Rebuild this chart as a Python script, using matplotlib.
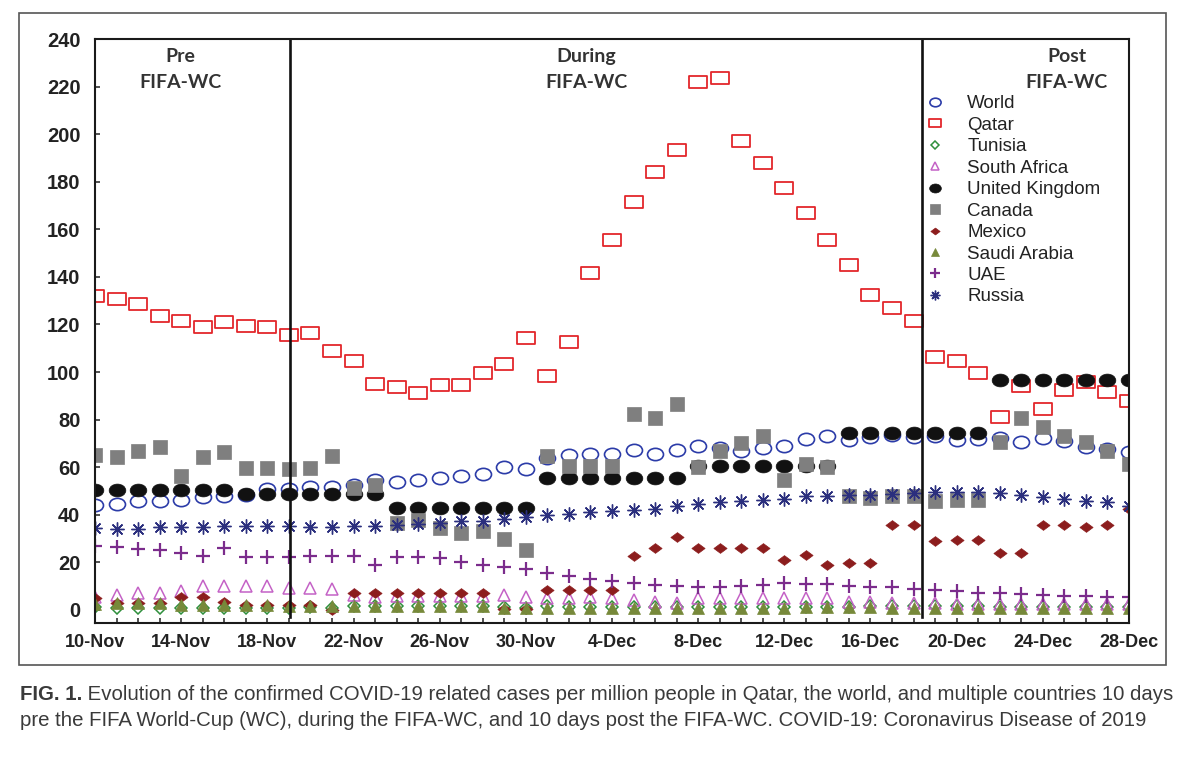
import numpy as np
import matplotlib
matplotlib.use("Agg")
import matplotlib.pyplot as plt
import matplotlib.transforms as mtrans
from matplotlib.path import Path
from matplotlib.patches import Rectangle
import pandas as pd

plt.rcParams["font.family"] = ["Liberation Sans", "DejaVu Sans"]

# dates, 10-Nov .. 28-Dec 2022
dates = pd.date_range("2022-11-10", "2022-12-28", freq="D")
tick_every = 4

# cases per million people
world = [44.2, 44.6, 45.6, 45.6, 46.0, 47.3, 48.0, 48.4, 50.9, 50.9, 51.6, 51.6, 52.6, 54.7, 53.8, 54.7, 55.4,
         56.1, 57.1, 59.9, 59.1, 64.0, 65.3, 65.7, 65.7, 67.4, 65.7, 67.4, 69.1, 68.1, 66.9, 68.1, 69.1, 72.0,
         73.0, 71.6, 72.7, 73.4, 72.7, 73.0, 71.6, 72.0, 72.3, 70.5, 72.3, 70.9, 68.5, 67.6, 66.2]
qatar = [132, 130.5, 128.5, 123.5, 121.5, 119, 121, 119.5, 119, 115.5, 116.5, 109, 104.5, 95, 93.5, 91, 94.5,
         94.5, 99.5, 103.5, 114.5, 98.5, 112.5, 141.5, 155.5, 171.5, 184, 193.5, 222, 223.5, 197, 188, 177.5,
         167, 155.5, 145, 132.5, 127, 121.5, 106.5, 104.5, 99.5, 81, 94, 84.5, 92.5, 96, 91.5, 88]
tunisia = [1.2, 0.8, 0.8, 0.8, 0.8, 0.8, 0.9, 0.9, 1.0, 1.0, 1.1, 1.0, 1.6, 1.6, 1.6, 1.7, 1.7, 1.7, 1.7, 1.2,
           1.0, 1.5, 1.4, 1.3, 1.2, 1.2, 1.2, 1.2, 1.3, 1.3, 1.3, 1.3, 1.3, 1.3, 1.4, 1.4, 1.5, 1.5, 1.5, 1.5,
           1.5, 1.5, 1.4, 1.4, 1.4, 1.3, 1.3, 1.3, 1.3]
south_africa = [5.5, 6.3, 7.3, 7.0, 8.1, 10.2, 10.2, 10.2, 10.2, 9.1, 9.1, 8.7, 6.3, 5.6, 5.8, 5.8, 5.8, 5.8,
                5.8, 6.3, 5.6, 4.9, 4.9, 5.3, 4.9, 4.2, 3.5, 2.8, 4.9, 4.9, 4.9, 4.9, 4.9, 4.9, 4.9, 3.5, 3.5,
                3.1, 2.8, 2.8, 2.6, 2.6, 2.5, 2.5, 2.5, 2.5, 2.5, 2.5, 2.5]
uk = [50.4, 50.4, 50.4, 50.4, 50.4, 50.4, 50.4, 48.7, 48.8, 48.8, 48.8, 48.8, 48.8, 48.8, 42.8, 42.8, 42.8,
      42.8, 42.8, 42.8, 42.8, 55.3, 55.3, 55.3, 55.3, 55.3, 55.3, 55.3, 60.3, 60.3, 60.3, 60.3, 60.3, 60.3,
      60.3, 74.4, 74.4, 74.4, 74.4, 74.4, 74.4, 74.4, 96.8, 96.8, 96.8, 96.8, 96.8, 96.8, 96.8]
canada = [65.3, 64.3, 66.8, 68.3, 56.4, 64.3, 66.4, 59.6, 59.6, 59.4, 59.6, 64.6, 51.2, 52.4, 36.5, 37.9, 34.4,
          32.3, 33.3, 29.9, 25.0, 64.6, 60.3, 60.3, 60.3, 82.5, 80.6, 86.6, 59.9, 66.9, 70.2, 73.3, 54.7, 61.3,
          59.9, 47.7, 47.0, 47.7, 47.7, 45.6, 46.3, 46.3, 70.6, 80.8, 76.8, 73.3, 70.5, 66.7, 61.5]
mexico = [4.9, 3.0, 3.0, 3.0, 5.6, 5.6, 3.5, 2.1, 2.1, 2.1, 2.1, 0.0, 7.0, 7.0, 7.0, 7.0, 7.0, 7.0, 7.0, 0.5,
          0.5, 8.4, 8.4, 8.4, 8.4, 22.5, 26.2, 30.6, 26.2, 26.2, 26.2, 26.2, 20.8, 23.0, 18.7, 19.7, 19.7, 35.5,
          35.5, 29.1, 29.5, 29.5, 24.1, 24.1, 35.5, 35.5, 34.8, 35.5, 42.4]
saudi = [2.5, 3.1, 3.1, 3.1, 2.1, 2.1, 2.0, 2.0, 2.0, 1.8, 1.5, 1.5, 1.8, 1.8, 1.8, 1.8, 1.8, 1.8, 1.8, 0.8, 0.8,
         1.0, 1.0, 1.0, 1.0, 1.0, 1.0, 1.0, 1.0, 1.0, 1.0, 1.0, 1.0, 1.2, 1.2, 1.2, 1.2, 1.0, 1.0, 1.0, 1.0,
         1.0, 1.0, 1.0, 1.0, 1.0, 1.0, 1.0, 1.0]
uae = [26.9, 26.4, 25.5, 25.0, 23.9, 22.7, 26.1, 22.2, 22.2, 22.2, 22.7, 22.7, 22.7, 18.9, 22.2, 22.2, 21.8,
       20.0, 18.7, 17.9, 17.3, 15.4, 14.4, 12.9, 12.2, 11.2, 10.5, 10.0, 9.8, 9.8, 10.0, 10.5, 11.2, 11.0, 11.0,
       10.0, 9.8, 9.8, 9.0, 8.4, 8.0, 7.3, 7.3, 6.7, 6.2, 5.9, 5.9, 5.6, 5.3]
russia = [34.4, 34.0, 34.0, 34.7, 34.7, 34.7, 35.1, 35.1, 35.1, 35.1, 34.7, 34.7, 35.1, 35.1, 35.8, 36.2, 36.5,
          37.2, 37.5, 38.2, 38.9, 39.7, 40.3, 41.0, 41.4, 42.1, 42.5, 43.5, 44.5, 45.2, 45.9, 46.3, 46.7, 47.7,
          47.7, 48.4, 48.4, 48.7, 49.1, 49.5, 49.5, 49.5, 49.1, 48.1, 47.4, 46.7, 45.9, 45.2, 43.8]

# period boundaries (day index) and labels
wc_start = 9.05
wc_end = 38.4
period_x = [3.95, 22.8, 45.1]
period_names = ["Pre", "During", "Post"]

# wide markers (the original picture is stretched sideways)
ellipse = mtrans.Affine2D().scale(1.3, 1.0).transform_path(Path.unit_circle())
rect = Path([(-1.5, -1), (1.5, -1), (1.5, 1), (-1.5, 1), (-1.5, -1)], closed=True)
wdiamond = Path([(-1.35, 0), (0, -1), (1.35, 0), (0, 1), (-1.35, 0)], closed=True)

series = [
    ("World", world, dict(marker=ellipse, ms=11.5, mfc="none", mec="#2b3ba8", mew=1.2)),
    ("Qatar", qatar, dict(marker=rect, ms=12.5, mfc="none", mec="#e3262b", mew=1.3)),
    ("Tunisia", tunisia, dict(marker="D", ms=6.5, mfc="none", mec="#2f8f3c", mew=1.1)),
    ("South Africa", south_africa, dict(marker="^", ms=9, mfc="none", mec="#c462c6", mew=1.1)),
    ("United Kingdom", uk, dict(marker=ellipse, ms=12, mfc="#111111", mec="#111111", mew=0.5)),
    ("Canada", canada, dict(marker="s", ms=10, mfc="#7f7f7f", mec="#7f7f7f", mew=0.5)),
    ("Mexico", mexico, dict(marker=wdiamond, ms=9.5, mfc="#8c1d1d", mec="#8c1d1d", mew=0.5)),
    ("Saudi Arabia", saudi, dict(marker="^", ms=9, mfc="#77893a", mec="#77893a", mew=0.5)),
    ("UAE", uae, dict(marker="+", ms=10, mfc="none", mec="#7b2c8c", mew=1.6)),
    ("Russia", russia, dict(marker=(8, 2, 0), ms=10, mfc="none", mec="#2b2f7e", mew=1.0)),
]

fig = plt.figure(figsize=(12, 7.71), dpi=100)
ax = fig.add_axes([95 / 1200, 1 - 623 / 771, (1129 - 95) / 1200, (623 - 39) / 771])

days = np.arange(len(dates))
for name, vals, st in series:
    ax.plot(days, vals, linestyle="none", label=name, **st)

ax.set_xlim(0, len(dates) - 1)
ax.set_ylim(-5.5, 240)

# ticks: one per day, label every 4th
ax.set_xticks(days)
ax.set_xticklabels([d.strftime("%-d-%b") if i % tick_every == 0 else "" for i, d in enumerate(dates)])
ax.set_yticks(np.arange(0, 241, 20))
ax.tick_params(axis="both", direction="in", length=3.6, width=1.1, color="#222222")
ax.tick_params(axis="x", pad=8, labelsize=13, labelcolor="#222222")
ax.tick_params(axis="y", pad=10.5, labelsize=14.5, labelcolor="#222222")
for lab in ax.get_xticklabels() + ax.get_yticklabels():
    lab.set_fontweight("bold")
for sp in ax.spines.values():
    sp.set_linewidth(1.5)
    sp.set_color("#1a1a1a")

# world cup start / end
for xv in (wc_start, wc_end):
    ax.axvline(xv, ymin=0.01, ymax=1, color="#111111", lw=1.9)

for xv, nm in zip(period_x, period_names):
    ax.text(xv, 232.8, nm, ha="center", va="center", fontsize=14, fontweight="bold",
            family=["Lato", "DejaVu Sans"], color="#333333")
    ax.text(xv, 221.9, "FIFA-WC", ha="center", va="center", fontsize=14, fontweight="bold",
            family=["Lato", "DejaVu Sans"], color="#333333")

leg = ax.legend(loc="upper left", bbox_to_anchor=(0.8037, 0.9035), frameon=False, fontsize=13.5,
                handlelength=1.0, handletextpad=1.2, labelspacing=0.23, borderpad=0, borderaxespad=0,
                markerscale=0.7)
for t in leg.get_texts():
    t.set_color("#222222")

# outer frame round the chart
fig.add_artist(Rectangle((19 / 1200, 1 - 665 / 771), (1166 - 19) / 1200, (665 - 13) / 771,
                         transform=fig.transFigure, fill=False, edgecolor="#555555", lw=1.2))

# caption
cap_font = ["Liberation Sans", "DejaVu Sans"]
fig_lab = fig.text(20 / 1200, 1 - 694 / 771, "FIG. 1.", fontsize=14.7, fontweight="bold", family=cap_font,
                   color="#3a3a3a", va="center")
ax.annotate(" Evolution of the confirmed COVID-19 related cases per million people in Qatar, the world, "
            "and multiple countries 10 days", xy=(1, 0.5), xycoords=fig_lab, va="center", ha="left",
            fontsize=14.7, family=cap_font, color="#3a3a3a", annotation_clip=False)
fig.text(20 / 1200, 1 - 720 / 771, "pre the FIFA World-Cup (WC), during the FIFA-WC, and 10 days post the "
         "FIFA-WC. COVID-19: Coronavirus Disease of 2019", fontsize=14.7, family=cap_font, color="#3a3a3a",
         va="center")

fig.savefig("out.png", dpi=100)
